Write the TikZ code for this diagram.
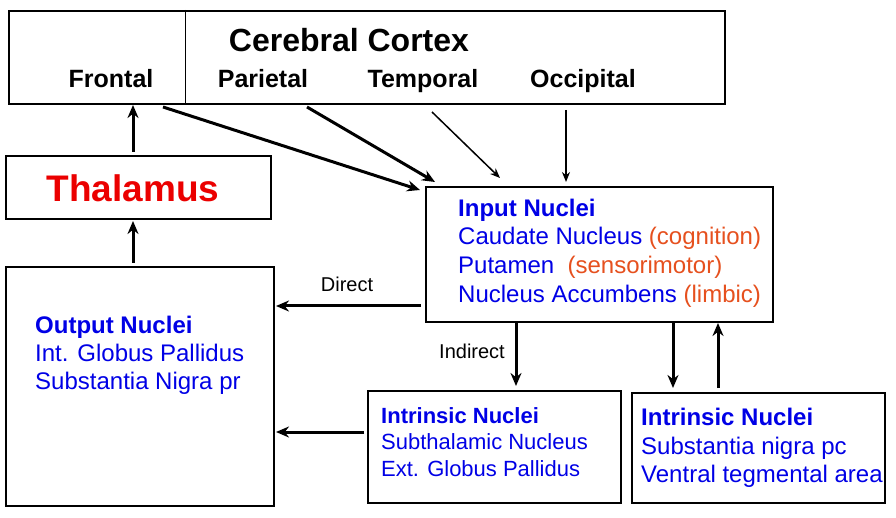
\documentclass[tikz,border=0pt]{standalone}
\usepackage{fontspec}
\setmainfont{Liberation Sans}
\usetikzlibrary{arrows.meta}
\definecolor{nblue}{RGB}{0,0,230}
\definecolor{nred}{RGB}{235,0,0}
\definecolor{norange}{RGB}{230,80,30}
\tikzset{
  box/.style={draw,line width=2pt},
  thick arr/.style={-{Stealth[length=13pt,width=11pt]},line width=3pt},
  thin arr/.style={-{Stealth[length=10pt,width=8pt]},line width=1.5pt},
  txt/.style={anchor=base west,inner sep=0,font=\fontsize{24}{28}\selectfont,text=nblue},
  hd/.style={txt,font=\fontsize{24}{28}\selectfont\bfseries},
  ctx/.style={anchor=base,inner sep=0,font=\fontsize{25}{28}\selectfont\bfseries},
  lbl/.style={anchor=base,inner sep=0,font=\fontsize{20}{24}\selectfont},
}
\begin{document}
\begin{tikzpicture}[x=1pt,y=-1pt]
\useasboundingbox (0,0) rectangle (896,518);
\fill[white] (0,0) rectangle (896,518);
\node[box,minimum width=716,minimum height=93,anchor=north west] (cx) at (8,10) {};
\draw[line width=1pt] (185,10) -- (185,103);
\node[inner sep=0,anchor=base,font=\fontsize{32}{36}\selectfont\bfseries] (cc) at (349,52) {Cerebral Cortex};
\node[ctx] (fr) at (111,88) {Frontal};
\node[ctx] (pa) at (263,88) {Parietal};
\node[ctx] (te) at (423,88) {Temporal};
\node[ctx] (oc) at (583,88) {Occipital};

\node[box,minimum width=265,minimum height=63,anchor=north west] (th) at (5,155) {};
\node[inner sep=0,anchor=base,text=nred,font=\fontsize{37}{40}\selectfont\bfseries] (tht) at (133,202) {Thalamus};

\node[box,minimum width=268,minimum height=239,anchor=north west] (out) at (5,266) {};
\node[hd] (o1) at (35,333) {Output Nuclei};
\node[txt] (o2) at (35,361) {Int. Globus Pallidus};
\node[txt] (o3) at (35,389) {Substantia Nigra pr};

\node[box,minimum width=347,minimum height=135,anchor=north west] (in) at (425,186) {};
\node[hd] (i1) at (458,217) {Input Nuclei};
\node[txt] (i2) at (458,245) {Caudate Nucleus \textcolor{norange}{(cognition)}};
\node[txt] (i3) at (458,274) {Putamen\ \ \textcolor{norange}{(sensorimotor)}};
\node[txt] (i4) at (458,303) {Nucleus Accumbens \textcolor{norange}{(limbic)}};

\node[box,minimum width=253,minimum height=112,anchor=north west] (n1) at (367,390) {};
\node[hd,font=\fontsize{22}{26}\selectfont\bfseries] (n1a) at (381,423) {Intrinsic Nuclei};
\node[txt,font=\fontsize{22}{26}\selectfont] (n1b) at (381,449) {Subthalamic Nucleus};
\node[txt,font=\fontsize{22}{26}\selectfont] (n1c) at (381,476) {Ext. Globus Pallidus};

\node[box,minimum width=253,minimum height=110,anchor=north west] (n2) at (631,392) {};
\node[hd] (n2a) at (641,425) {Intrinsic Nuclei};
\node[txt] (n2b) at (641,454) {Substantia nigra pc};
\node[txt] (n2c) at (641,482) {Ventral tegmental area};

\draw[thick arr] (133,152) -- (133,105);
\draw[thick arr] (133,263) -- (133,221);
\draw[thick arr] (163,107) -- (420,190);
\draw[thick arr] (307,107) -- (435,182);
\draw[thin arr] (432,112) -- (500,178);
\draw[thin arr] (566,110) -- (566,182);
\draw[thick arr] (421,306) -- (276,306);
\node[lbl] (dl) at (347,291) {Direct};
\draw[thick arr] (516,322) -- (516,386);
\node[lbl] (il) at (472,358) {Indirect};
\draw[thick arr] (364,432) -- (276,432);
\draw[thick arr] (673,323) -- (673,388);
\draw[thick arr] (718,388) -- (718,323);
\end{tikzpicture}
\end{document}
